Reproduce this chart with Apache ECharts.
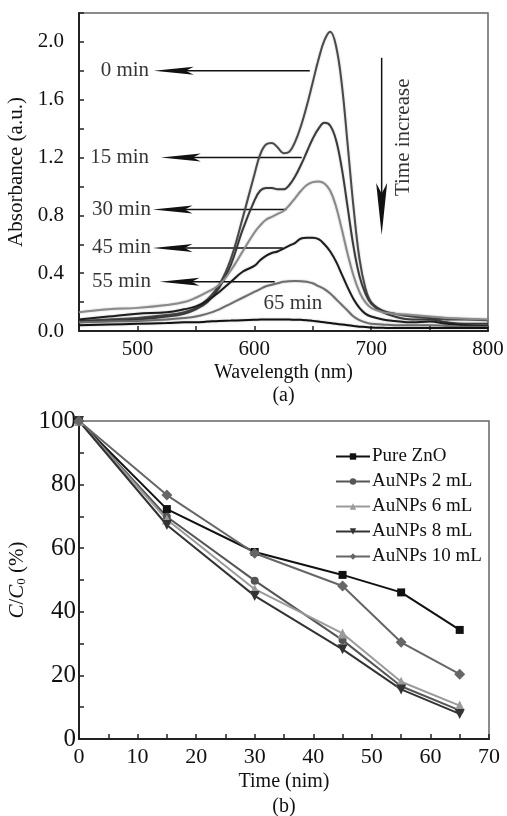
<!DOCTYPE html>
<html lang="en">
<head>
    <meta charset="UTF-8"/>
    <title>Absorbance spectra and C/C0 vs time</title>
    <style>
        html, body {
            margin: 0;
            padding: 0;
            width: 507px;
            height: 816px;
            background: #ffffff;
            overflow: hidden;
        }

        #chart {
            width: 507px;
            height: 816px;
        }
    </style>
</head>
<body>
<div id="chart"></div>
<script src="https://cdn.jsdelivr.net/npm/echarts@6/dist/echarts.min.js"></script>
<script>
    // ---- panel (a): absorbance spectra ----
    const wavelength = [450, 475, 500, 525, 540, 550, 560, 570, 580, 590, 600, 605, 610, 615, 620, 625, 630, 635,
        640, 645, 650, 655, 660, 665, 670, 675, 680, 685, 690, 695, 700, 710, 720, 735, 750, 765, 780, 800];
    const abs0 = [0.07, 0.08, 0.09, 0.11, 0.13, 0.16, 0.22, 0.32, 0.5, 0.78, 1.08, 1.22, 1.29, 1.30, 1.27, 1.23, 1.24, 1.31,
        1.42, 1.56, 1.72, 1.88, 2.01, 2.07, 1.97, 1.70, 1.28, 0.85, 0.5, 0.3, 0.2, 0.14, 0.12, 0.1, 0.09, 0.08, 0.08, 0.075];
    const abs15 = [0.06, 0.07, 0.08, 0.1, 0.12, 0.15, 0.2, 0.3, 0.46, 0.7, 0.9, 0.97, 0.99, 0.99, 0.98, 0.98, 1.01, 1.07,
        1.15, 1.24, 1.33, 1.40, 1.44, 1.42, 1.32, 1.12, 0.85, 0.58, 0.38, 0.26, 0.19, 0.13, 0.1, 0.08, 0.08, 0.06, 0.05, 0.05];
    const abs30 = [0.13, 0.15, 0.16, 0.18, 0.2, 0.23, 0.27, 0.32, 0.42, 0.55, 0.68, 0.73, 0.77, 0.79, 0.81, 0.83, 0.87, 0.92,
        0.97, 1.01, 1.03, 1.035, 1.02, 0.97, 0.86, 0.7, 0.53, 0.38, 0.27, 0.2, 0.16, 0.13, 0.12, 0.11, 0.1, 0.09, 0.085, 0.08];
    const abs45 = [0.08, 0.1, 0.12, 0.13, 0.15, 0.17, 0.21, 0.27, 0.34, 0.41, 0.45, 0.49, 0.52, 0.54, 0.55, 0.57, 0.59, 0.61,
        0.64, 0.645, 0.645, 0.635, 0.6, 0.55, 0.48, 0.39, 0.3, 0.22, 0.16, 0.12, 0.1, 0.08, 0.07, 0.06, 0.065, 0.05, 0.04, 0.035];
    const abs55 = [0.06, 0.065, 0.07, 0.08, 0.09, 0.1, 0.12, 0.15, 0.19, 0.23, 0.27, 0.29, 0.31, 0.32, 0.33, 0.34, 0.345, 0.346,
        0.345, 0.34, 0.33, 0.31, 0.29, 0.26, 0.22, 0.18, 0.14, 0.1, 0.075, 0.06, 0.05, 0.045, 0.04, 0.04, 0.04, 0.035, 0.03, 0.03];
    const abs65 = [0.04, 0.045, 0.05, 0.055, 0.06, 0.06, 0.065, 0.07, 0.072, 0.075, 0.078, 0.079, 0.08, 0.08, 0.08, 0.08, 0.079, 0.078,
        0.077, 0.075, 0.07, 0.065, 0.06, 0.055, 0.05, 0.045, 0.04, 0.035, 0.03, 0.028, 0.025, 0.022, 0.02, 0.02, 0.02, 0.02, 0.02, 0.02];

    // arrows pointing to the time labels (data coords of panel a)
    const noteLabels = ['0 min', '15 min', '30 min', '45 min', '55 min'];
    const arrowFromX = [647.5, 640.6, 627.8, 624.4, 617.5];
    const arrowToX = [514, 520, 513, 513, 519];
    const arrowY = [1.80, 1.20, 0.84, 0.575, 0.34];
    const labelRightX = [510.4, 510.4, 512, 512, 512];
    const lastNote = ['65 min', 633, 0.187];
    const trendArrow = [709, 1.89, 709, 0.664];
    const trendNote = ['Time increase', 728, 1.34];

    // ---- panel (b): C/C0 vs time ----
    const times = [0, 15, 30, 45, 55, 65];
    const pureZnO = [100, 72.3, 58.8, 51.6, 46.1, 34.3];
    const au2 = [100, 69.9, 49.8, 31.1, 16.6, 9.0];
    const au6 = [100, 69.0, 47.1, 33.2, 18.0, 10.5];
    const au8 = [100, 67.3, 45.0, 28.2, 15.6, 7.9];
    const au10 = [100, 76.7, 58.4, 48.1, 30.4, 20.4];

    const serif = "'Liberation Serif', 'Times New Roman', serif";
    const chart = echarts.init(document.getElementById('chart'));

    const pairs = (xs, ys) => xs.map((x, i) => [x, ys[i]]);

    function spectrum(name, ys, color, width) {
        return {
            name: name,
            type: 'line',
            xAxisIndex: 0,
            yAxisIndex: 0,
            smooth: 0.4,
            showSymbol: false,
            lineStyle: {color: color, width: width, shadowColor: 'rgba(0,0,0,0.25)', shadowBlur: 2},
            data: pairs(wavelength, ys)
        }
    }

    function kinetics(name, ys, color, symbol, size) {
        return {
            name: name,
            type: 'line',
            xAxisIndex: 1,
            yAxisIndex: 1,
            symbol: symbol,
            symbolSize: size,
            itemStyle: {color: color},
            lineStyle: {color: color, width: 2},
            data: pairs(times, ys)
        }
    }

    // draws a line with a long narrow dart head at the end point
    function arrowSeries(data, headLen, half) {
        return {
            type: 'custom',
            xAxisIndex: 0,
            yAxisIndex: 0,
            silent: true,
            encode: {x: [0, 2], y: [1, 3]},
            renderItem: function (params, api) {
                const p1 = api.coord([api.value(0), api.value(1)]);
                const p2 = api.coord([api.value(2), api.value(3)]);
                const dx = p2[0] - p1[0], dy = p2[1] - p1[1];
                const len = Math.hypot(dx, dy);
                const ux = dx / len, uy = dy / len;
                const nx = -uy, ny = ux;
                const bx = p2[0] - ux * headLen, by = p2[1] - uy * headLen;
                const notch = [p2[0] - ux * headLen * 0.8, p2[1] - uy * headLen * 0.8];
                return {
                    type: 'group',
                    children: [
                        {
                            type: 'line',
                            shape: {x1: p1[0], y1: p1[1], x2: notch[0], y2: notch[1]},
                            style: {stroke: '#111', lineWidth: 1.5}
                        },
                        {
                            type: 'polygon',
                            shape: {points: [p2, [bx + nx * half, by + ny * half], notch, [bx - nx * half, by - ny * half]]},
                            style: {fill: '#111'}
                        }
                    ]
                }
            },
            data: data
        }
    }

    const noteStyle = {show: true, color: '#000', fontFamily: serif, fontSize: 21};
    const notes = noteLabels.map((t, i) => ({
        value: [labelRightX[i], arrowY[i]],
        label: Object.assign({}, noteStyle, {position: 'left', distance: 0, formatter: t})
    }));
    notes.push({
        value: [lastNote[1], lastNote[2]],
        label: Object.assign({}, noteStyle, {position: 'inside', formatter: lastNote[0]})
    });
    notes.push({
        value: [trendNote[1], trendNote[2]],
        label: Object.assign({}, noteStyle, {position: 'inside', rotate: 90, formatter: trendNote[0]})
    });

    const tickStyle = {inside: true, length: 5, lineStyle: {color: '#222', width: 1.5}};
    const lineStyle = {show: true, onZero: false, lineStyle: {color: '#222', width: 2}};

    const option = {
        animation: false,
        backgroundColor: '#ffffff',
        textStyle: {fontFamily: serif},
        grid: [
            {
                left: 79, top: 13, width: 409, height: 318, outerBoundsMode: 'none',
                show: true, borderColor: '#666', borderWidth: 1.5
            },
            {
                left: 79, top: 421, width: 410, height: 318, outerBoundsMode: 'none',
                show: true, borderColor: '#666', borderWidth: 1.5
            }
        ],
        legend: {
            data: ['Pure ZnO', 'AuNPs 2 mL', 'AuNPs 6 mL', 'AuNPs 8 mL', 'AuNPs 10 mL'],
            orient: 'vertical',
            left: 330,
            top: 442,
            itemWidth: 34,
            itemHeight: 8,
            itemGap: 6,
            textStyle: {color: '#111', fontFamily: serif, fontSize: 19, padding: [0, 0, 0, -3]}
        },
        xAxis: [
            {
                gridIndex: 0,
                type: 'value',
                min: 450,
                max: 800,
                interval: 50,
                axisLine: lineStyle,
                axisTick: tickStyle,
                splitLine: {show: false},
                axisLabel: {
                    formatter: v => (v % 100 === 0 ? String(v) : ''),
                    color: '#111', fontFamily: serif, fontSize: 21, margin: 8
                },
                name: 'Wavelength (nm)\n(a)',
                nameLocation: 'middle',
                nameGap: 26,
                nameTextStyle: {color: '#111', fontFamily: serif, fontSize: 20, lineHeight: 23}
            },
            {
                gridIndex: 1,
                type: 'value',
                min: 0,
                max: 70,
                interval: 5,
                axisLine: lineStyle,
                axisTick: tickStyle,
                splitLine: {show: false},
                axisLabel: {
                    formatter: v => (v % 10 === 0 ? String(v) : ''),
                    color: '#111', fontFamily: serif, fontSize: 22, margin: 7
                },
                name: 'Time (nim)\n(b)',
                nameLocation: 'middle',
                nameGap: 30,
                nameTextStyle: {color: '#111', fontFamily: serif, fontSize: 20, lineHeight: 25}
            }
        ],
        yAxis: [
            {
                gridIndex: 0,
                type: 'value',
                min: 0,
                max: 2.2,
                interval: 0.2,
                axisLine: lineStyle,
                axisTick: tickStyle,
                splitLine: {show: false},
                axisLabel: {
                    formatter: v => (Math.round(v * 10) % 4 === 0 ? v.toFixed(1) : ''),
                    color: '#111', fontFamily: serif, fontSize: 21, margin: 15
                },
                name: 'Absorbance (a.u.)',
                nameLocation: 'middle',
                nameRotate: 90,
                nameGap: 42,
                nameTextStyle: {color: '#111', fontFamily: serif, fontSize: 21}
            },
            {
                gridIndex: 1,
                type: 'value',
                min: 0,
                max: 100,
                interval: 10,
                axisLine: lineStyle,
                axisTick: tickStyle,
                splitLine: {show: false},
                axisLabel: {
                    formatter: v => (v % 20 === 0 ? String(v) : ''),
                    color: '#111', fontFamily: serif, fontSize: 25, margin: 3
                },
                name: '{i|C}/{i|C}{s|0} (%)',
                nameLocation: 'middle',
                nameRotate: 90,
                nameGap: 42,
                nameTextStyle: {
                    color: '#111', fontFamily: serif, fontSize: 21,
                    rich: {
                        i: {fontStyle: 'italic', fontFamily: serif, fontSize: 21, color: '#111'},
                        s: {fontFamily: serif, fontSize: 13, color: '#111', verticalAlign: 'bottom', padding: [8, 0, 0, 0]}
                    }
                }
            }
        ],
        series: [
            spectrum('0 min', abs0, '#4a4a4a', 2),
            spectrum('15 min', abs15, '#3a3a3a', 2),
            spectrum('30 min', abs30, '#8a8a8a', 2),
            spectrum('45 min', abs45, '#1c1c1c', 2),
            spectrum('55 min', abs55, '#6e6e6e', 2),
            spectrum('65 min', abs65, '#111111', 2),
            arrowSeries(arrowFromX.map((x, i) => [x, arrowY[i], arrowToX[i], arrowY[i]]), 40, 4),
            arrowSeries([trendArrow], 52, 5.5),
            {
                type: 'scatter',
                xAxisIndex: 0,
                yAxisIndex: 0,
                symbolSize: 1,
                silent: true,
                itemStyle: {color: 'rgba(0,0,0,0)'},
                data: notes
            },
            kinetics('Pure ZnO', pureZnO, '#111111', 'rect', 8),
            kinetics('AuNPs 2 mL', au2, '#555555', 'circle', 8),
            kinetics('AuNPs 6 mL', au6, '#9a9a9a', 'triangle', 10),
            kinetics('AuNPs 8 mL', au8, '#333333', 'path://M0,0 L10,0 L5,10 Z', 10),
            kinetics('AuNPs 10 mL', au10, '#666666', 'diamond', 11)
        ]
    };

    chart.setOption(option);
</script>
</body>
</html>
